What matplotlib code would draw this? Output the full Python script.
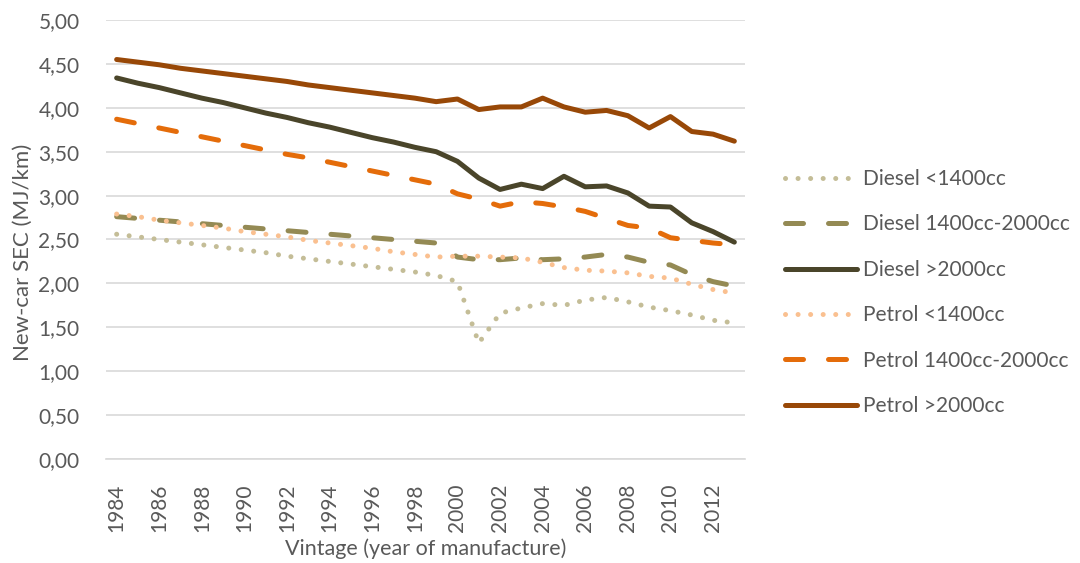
import matplotlib.pyplot as plt
from matplotlib.ticker import FuncFormatter

years = list(range(1984, 2014))

diesel_small = [2.56, 2.53, 2.50, 2.47, 2.44, 2.41, 2.38, 2.35, 2.31, 2.28,
                2.25, 2.22, 2.19, 2.16, 2.13, 2.09, 2.02, 1.32, 1.66, 1.72,
                1.77, 1.75, 1.81, 1.84, 1.79, 1.73, 1.69, 1.64, 1.58, 1.55]
diesel_mid = [2.76, 2.74, 2.72, 2.70, 2.68, 2.66, 2.64, 2.62, 2.60, 2.58,
              2.56, 2.54, 2.52, 2.50, 2.48, 2.46, 2.30, 2.27, 2.27, 2.29,
              2.27, 2.28, 2.30, 2.33, 2.30, 2.24, 2.21, 2.10, 2.02, 1.97]
diesel_large = [4.34, 4.28, 4.23, 4.17, 4.11, 4.06, 4.00, 3.94, 3.89, 3.83,
                3.78, 3.72, 3.66, 3.61, 3.55, 3.50, 3.39, 3.20, 3.07, 3.13,
                3.08, 3.22, 3.10, 3.11, 3.03, 2.88, 2.87, 2.69, 2.59, 2.47]
petrol_small = [2.79, 2.76, 2.72, 2.69, 2.66, 2.63, 2.59, 2.56, 2.53, 2.49,
                2.46, 2.43, 2.40, 2.36, 2.33, 2.30, 2.31, 2.31, 2.30, 2.29,
                2.24, 2.18, 2.15, 2.14, 2.12, 2.08, 2.06, 1.99, 1.93, 1.89]
petrol_mid = [3.87, 3.82, 3.77, 3.72, 3.67, 3.62, 3.57, 3.52, 3.47, 3.43,
              3.38, 3.33, 3.28, 3.23, 3.18, 3.13, 3.02, 2.96, 2.88, 2.93,
              2.91, 2.87, 2.82, 2.74, 2.66, 2.63, 2.52, 2.49, 2.46, 2.44]
petrol_large = [4.55, 4.52, 4.49, 4.45, 4.42, 4.39, 4.36, 4.33, 4.30, 4.26,
                4.23, 4.20, 4.17, 4.14, 4.11, 4.07, 4.10, 3.98, 4.01, 4.01,
                4.11, 4.01, 3.95, 3.97, 3.91, 3.77, 3.90, 3.73, 3.70, 3.62]

labels = ["Diesel <1400cc", "Diesel 1400cc-2000cc", "Diesel >2000cc",
          "Petrol <1400cc", "Petrol 1400cc-2000cc", "Petrol >2000cc"]
series = [diesel_small, diesel_mid, diesel_large, petrol_small, petrol_mid, petrol_large]
colors = ["#C4BD97", "#948A54", "#4A452A", "#FAC090", "#E46C0A", "#984807"]

lw = 3.6
dotted = (0, (0.01, 2.5))
dashed = (0, (3.6, 5.0))
styles = [dotted, dashed, "-", dotted, dashed, "-"]

grey = "#595959"
plt.rcParams['font.family'] = ['Lato', 'DejaVu Sans']

fig = plt.figure(figsize=(10.8, 5.63), dpi=100)
ax = fig.add_axes([106/1080, 1-459/563, (745-106)/1080, (459-20)/563])

for vals, lab, c, ls in zip(series, labels, colors, styles):
    ax.plot(years, vals, color=c, lw=lw, ls=ls, label=lab,
            dash_capstyle='round', solid_capstyle='round', solid_joinstyle='round')

ax.set_xlim(1983.5, 2013.5)
ax.set_ylim(0, 5)
ax.set_yticks([i * 0.5 for i in range(11)])
ax.yaxis.set_major_formatter(FuncFormatter(lambda v, p: f"{v:.2f}".replace('.', ',')))
ax.set_xticks(years[::2])
ax.set_xticklabels([str(y) for y in years[::2]], rotation=90)
ax.grid(axis='y', color='#D9D9D9', lw=1.2)
ax.set_axisbelow(True)
for s in ['top', 'right', 'left']:
    ax.spines[s].set_visible(False)
ax.spines['bottom'].set_color('#D9D9D9')
ax.spines['bottom'].set_linewidth(1.2)
ax.tick_params(axis='both', length=0, labelsize=15, colors=grey)
ax.tick_params(axis='x', pad=17.5)
ax.tick_params(axis='y', pad=19)

ax.set_ylabel("New-car SEC (MJ/km)", fontsize=16, color=grey)
ax.yaxis.set_label_coords(-73/639, 1 - (252-20)/439)
ax.set_xlabel("Vintage (year of manufacture)", fontsize=15.5, color=grey, labelpad=4.5)

ax.legend(loc='center left', bbox_to_anchor=(785/1080, 1-292.5/563),
          bbox_transform=fig.transFigure, frameon=False, fontsize=15,
          labelcolor=grey, handlelength=3.46, handletextpad=0.27,
          labelspacing=1.22, borderpad=0, borderaxespad=0)

fig.savefig("out.png", dpi=100)
